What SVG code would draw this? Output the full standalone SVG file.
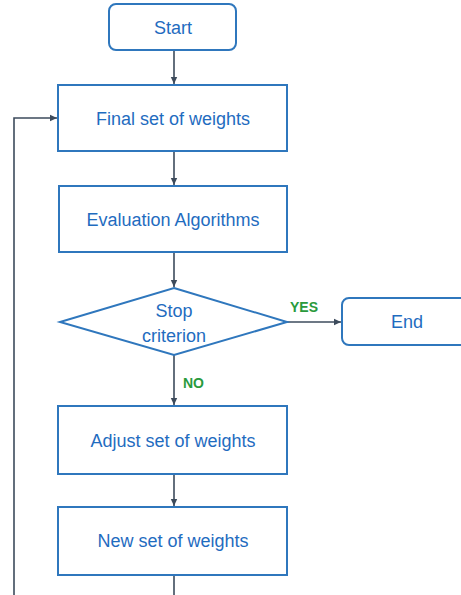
<svg xmlns="http://www.w3.org/2000/svg" width="461" height="595" viewBox="0 0 461 595">
<defs>
<marker id="ah" markerWidth="8" markerHeight="8" refX="7" refY="4" orient="auto" markerUnits="userSpaceOnUse">
<path d="M0,0.8 L7,4 L0,7.2 Z" fill="#3d4b5c"/>
</marker>
<style>
.box{fill:#fff;stroke:#2f77bd;stroke-width:2}
.t{font-family:"Liberation Sans",Arial,sans-serif;font-size:18px;fill:#1f6cbf;text-anchor:middle;dominant-baseline:central}
.g{font-family:"Liberation Sans",Arial,sans-serif;font-size:14px;font-weight:bold;fill:#2a9a3c}
.c{fill:none;stroke:#3d4b5c;stroke-width:1.6}
</style>
</defs>
<rect width="461" height="595" fill="#fff"/>
<g id="connectors">
<line class="c" x1="174" y1="50" x2="174" y2="84" marker-end="url(#ah)"/>
<line class="c" x1="174" y1="151" x2="174" y2="185" marker-end="url(#ah)"/>
<line class="c" x1="174" y1="252" x2="174" y2="287" marker-end="url(#ah)"/>
<line class="c" x1="287" y1="322" x2="341" y2="322" marker-end="url(#ah)"/>
<line class="c" x1="174" y1="355" x2="174" y2="405" marker-end="url(#ah)"/>
<line class="c" x1="174" y1="474" x2="174" y2="506" marker-end="url(#ah)"/>
<line class="c" x1="174" y1="575" x2="174" y2="596"/>
<polyline class="c" points="14,596 14,118 57,118" marker-end="url(#ah)"/>
<text class="g" x="290" y="312">YES</text>
<text class="g" x="183" y="388">NO</text>
</g>
<g id="start">
<rect class="box" x="109" y="4" width="127" height="46" rx="7"/>
<text class="t" x="173" y="28">Start</text>
</g>
<g id="final">
<rect class="box" x="58" y="85" width="229" height="66"/>
<text class="t" x="173" y="119">Final set of weights</text>
</g>
<g id="eval">
<rect class="box" x="59" y="186" width="228" height="66"/>
<text class="t" x="173" y="220">Evaluation Algorithms</text>
</g>
<g id="stop">
<polygon class="box" points="174,288 287,322 174,355 60,322"/>
<text class="t" x="174" y="311">Stop</text>
<text class="t" x="174" y="336">criterion</text>
</g>
<g id="end">
<rect class="box" x="342" y="298" width="130" height="47" rx="7"/>
<text class="t" x="407" y="322">End</text>
</g>
<g id="adjust">
<rect class="box" x="58" y="406" width="229" height="68"/>
<text class="t" x="173" y="441">Adjust set of weights</text>
</g>
<g id="new">
<rect class="box" x="58" y="507" width="229" height="68"/>
<text class="t" x="173" y="541">New set of weights</text>
</g>
</svg>
